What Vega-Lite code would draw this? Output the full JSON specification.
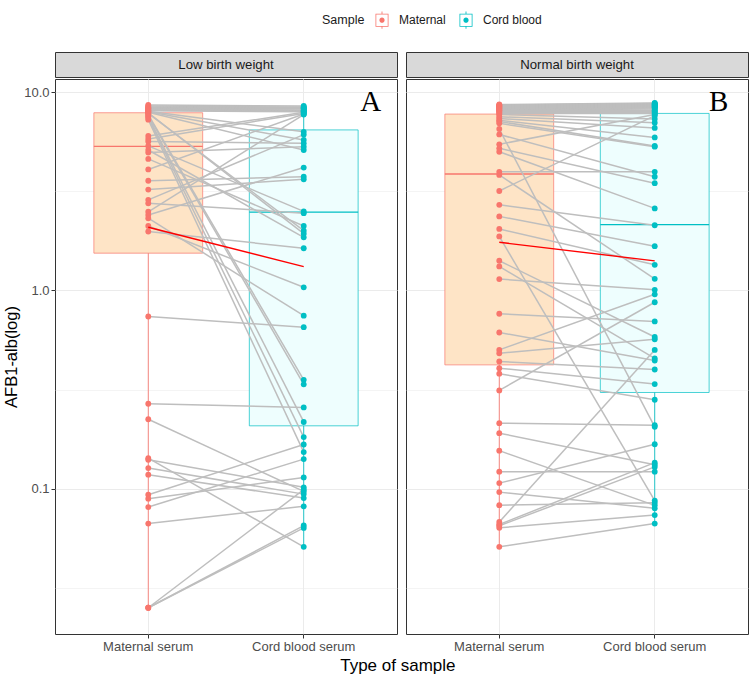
{
  "$schema": "https://vega.github.io/schema/vega-lite/v6.json",
  "background": "white",
  "padding": {"left": 3, "top": 11, "right": 4, "bottom": 6},
  "config": {
    "font": "Liberation Sans",
    "view": {"stroke": "#333333", "strokeWidth": 1},
    "axis": {"domain": false, "gridColor": "#EBEBEB", "tickColor": "#333333", "tickSize": 4, "labelFontSize": 13, "labelColor": "#4D4D4D", "labelPadding": 2, "titleFontWeight": "normal", "titleColor": "#000000"},
    "legend": {"orient": "none", "legendX": 267, "legendY": -41, "direction": "horizontal", "titleOrient": "left", "titleFontSize": 12.5, "titleFontWeight": "normal", "titleColor": "#1A1A1A", "titlePadding": 8, "labelFontSize": 12, "labelColor": "#1A1A1A", "labelOffset": 8, "columnPadding": 11, "symbolSize": 300, "symbolStrokeWidth": 0,
               "symbolType": "M-0.75,-0.75H0.75V0.75H-0.75Z M-0.66,-0.66V0.66H0.66V-0.66Z M-0.05,-1H0.05V-0.75H-0.05Z M-0.05,0.75H0.05V1H-0.05Z M0.3,0A0.3,0.3 0 1,1 -0.3,0A0.3,0.3 0 1,1 0.3,0Z"}
  },
  "title": {"text": "Type of sample", "orient": "bottom", "anchor": "middle", "fontSize": 17, "fontWeight": "normal", "color": "#000000", "offset": 4, "dx": 22},
  "datasets": {
    "pairs": [
      {"group": "Low birth weight", "id": 1, "Maternal": 8.6, "Cord blood": 8.5},
      {"group": "Low birth weight", "id": 2, "Maternal": 8.5, "Cord blood": 8.4},
      {"group": "Low birth weight", "id": 3, "Maternal": 8.4, "Cord blood": 8.35},
      {"group": "Low birth weight", "id": 4, "Maternal": 8.35, "Cord blood": 8.3},
      {"group": "Low birth weight", "id": 5, "Maternal": 8.3, "Cord blood": 8.25},
      {"group": "Low birth weight", "id": 6, "Maternal": 8.25, "Cord blood": 8.2},
      {"group": "Low birth weight", "id": 7, "Maternal": 8.2, "Cord blood": 8.1},
      {"group": "Low birth weight", "id": 8, "Maternal": 8.15, "Cord blood": 8.05},
      {"group": "Low birth weight", "id": 9, "Maternal": 8.1, "Cord blood": 8.0},
      {"group": "Low birth weight", "id": 10, "Maternal": 8.05, "Cord blood": 7.95},
      {"group": "Low birth weight", "id": 11, "Maternal": 8.0, "Cord blood": 6.3},
      {"group": "Low birth weight", "id": 12, "Maternal": 7.95, "Cord blood": 5.73},
      {"group": "Low birth weight", "id": 13, "Maternal": 7.9, "Cord blood": 5.1},
      {"group": "Low birth weight", "id": 14, "Maternal": 7.85, "Cord blood": 1.93},
      {"group": "Low birth weight", "id": 15, "Maternal": 7.8, "Cord blood": 2.0},
      {"group": "Low birth weight", "id": 16, "Maternal": 7.7, "Cord blood": 0.354},
      {"group": "Low birth weight", "id": 17, "Maternal": 7.6, "Cord blood": 0.336},
      {"group": "Low birth weight", "id": 18, "Maternal": 7.5, "Cord blood": 0.217},
      {"group": "Low birth weight", "id": 19, "Maternal": 7.4, "Cord blood": 0.182},
      {"group": "Low birth weight", "id": 20, "Maternal": 7.25, "Cord blood": 0.153},
      {"group": "Low birth weight", "id": 21, "Maternal": 6.0, "Cord blood": 7.9},
      {"group": "Low birth weight", "id": 22, "Maternal": 5.8, "Cord blood": 7.8},
      {"group": "Low birth weight", "id": 23, "Maternal": 5.63, "Cord blood": 5.51},
      {"group": "Low birth weight", "id": 24, "Maternal": 5.35, "Cord blood": 2.5},
      {"group": "Low birth weight", "id": 25, "Maternal": 5.1, "Cord blood": 1.85},
      {"group": "Low birth weight", "id": 26, "Maternal": 4.95, "Cord blood": 5.3},
      {"group": "Low birth weight", "id": 27, "Maternal": 4.6, "Cord blood": 2.11},
      {"group": "Low birth weight", "id": 28, "Maternal": 4.07, "Cord blood": 7.75},
      {"group": "Low birth weight", "id": 29, "Maternal": 3.57, "Cord blood": 3.74},
      {"group": "Low birth weight", "id": 30, "Maternal": 3.22, "Cord blood": 3.63},
      {"group": "Low birth weight", "id": 31, "Maternal": 2.86, "Cord blood": 6.1},
      {"group": "Low birth weight", "id": 32, "Maternal": 2.75, "Cord blood": 2.45},
      {"group": "Low birth weight", "id": 33, "Maternal": 2.49, "Cord blood": 7.7},
      {"group": "Low birth weight", "id": 34, "Maternal": 2.4, "Cord blood": 4.16},
      {"group": "Low birth weight", "id": 35, "Maternal": 2.31, "Cord blood": 0.745},
      {"group": "Low birth weight", "id": 36, "Maternal": 2.11, "Cord blood": 1.036},
      {"group": "Low birth weight", "id": 37, "Maternal": 1.98, "Cord blood": 1.63},
      {"group": "Low birth weight", "id": 38, "Maternal": 0.738, "Cord blood": 0.652},
      {"group": "Low birth weight", "id": 39, "Maternal": 0.268, "Cord blood": 0.257},
      {"group": "Low birth weight", "id": 40, "Maternal": 0.224, "Cord blood": 0.0969},
      {"group": "Low birth weight", "id": 41, "Maternal": 0.1426, "Cord blood": 0.0509},
      {"group": "Low birth weight", "id": 42, "Maternal": 0.14, "Cord blood": 0.1016},
      {"group": "Low birth weight", "id": 43, "Maternal": 0.127, "Cord blood": 0.0939},
      {"group": "Low birth weight", "id": 44, "Maternal": 0.1177, "Cord blood": 0.0897},
      {"group": "Low birth weight", "id": 45, "Maternal": 0.0933, "Cord blood": 0.167},
      {"group": "Low birth weight", "id": 46, "Maternal": 0.0891, "Cord blood": 0.114},
      {"group": "Low birth weight", "id": 47, "Maternal": 0.0808, "Cord blood": 0.141},
      {"group": "Low birth weight", "id": 48, "Maternal": 0.0667, "Cord blood": 0.0815},
      {"group": "Low birth weight", "id": 49, "Maternal": 0.0251, "Cord blood": 0.099},
      {"group": "Low birth weight", "id": 50, "Maternal": 0.0251, "Cord blood": 0.0652},
      {"group": "Low birth weight", "id": 51, "Maternal": 0.0251, "Cord blood": 0.0634},
      {"group": "Normal birth weight", "id": 1, "Maternal": 8.65, "Cord blood": 8.8},
      {"group": "Normal birth weight", "id": 2, "Maternal": 8.6, "Cord blood": 8.75},
      {"group": "Normal birth weight", "id": 3, "Maternal": 8.55, "Cord blood": 8.7},
      {"group": "Normal birth weight", "id": 4, "Maternal": 8.5, "Cord blood": 8.65},
      {"group": "Normal birth weight", "id": 5, "Maternal": 8.45, "Cord blood": 8.6},
      {"group": "Normal birth weight", "id": 6, "Maternal": 8.4, "Cord blood": 8.55},
      {"group": "Normal birth weight", "id": 7, "Maternal": 8.35, "Cord blood": 8.5},
      {"group": "Normal birth weight", "id": 8, "Maternal": 8.3, "Cord blood": 8.45},
      {"group": "Normal birth weight", "id": 9, "Maternal": 8.25, "Cord blood": 8.4},
      {"group": "Normal birth weight", "id": 10, "Maternal": 8.2, "Cord blood": 8.35},
      {"group": "Normal birth weight", "id": 11, "Maternal": 8.15, "Cord blood": 8.3},
      {"group": "Normal birth weight", "id": 12, "Maternal": 8.1, "Cord blood": 8.2},
      {"group": "Normal birth weight", "id": 13, "Maternal": 8.05, "Cord blood": 8.1},
      {"group": "Normal birth weight", "id": 14, "Maternal": 8.0, "Cord blood": 8.0},
      {"group": "Normal birth weight", "id": 15, "Maternal": 7.9, "Cord blood": 7.9},
      {"group": "Normal birth weight", "id": 16, "Maternal": 7.8, "Cord blood": 7.8},
      {"group": "Normal birth weight", "id": 17, "Maternal": 7.7, "Cord blood": 7.31},
      {"group": "Normal birth weight", "id": 18, "Maternal": 7.5, "Cord blood": 7.0},
      {"group": "Normal birth weight", "id": 19, "Maternal": 7.35, "Cord blood": 6.59},
      {"group": "Normal birth weight", "id": 20, "Maternal": 7.2, "Cord blood": 5.9},
      {"group": "Normal birth weight", "id": 21, "Maternal": 7.1, "Cord blood": 5.35},
      {"group": "Normal birth weight", "id": 22, "Maternal": 6.95, "Cord blood": 5.3},
      {"group": "Normal birth weight", "id": 23, "Maternal": 6.51, "Cord blood": 0.205},
      {"group": "Normal birth weight", "id": 24, "Maternal": 6.11, "Cord blood": 3.74},
      {"group": "Normal birth weight", "id": 25, "Maternal": 5.45, "Cord blood": 7.7},
      {"group": "Normal birth weight", "id": 26, "Maternal": 5.2, "Cord blood": 3.47},
      {"group": "Normal birth weight", "id": 27, "Maternal": 5.0, "Cord blood": 2.59},
      {"group": "Normal birth weight", "id": 28, "Maternal": 3.96, "Cord blood": 3.96},
      {"group": "Normal birth weight", "id": 29, "Maternal": 3.82, "Cord blood": 1.143},
      {"group": "Normal birth weight", "id": 30, "Maternal": 3.17, "Cord blood": 7.6},
      {"group": "Normal birth weight", "id": 31, "Maternal": 2.7, "Cord blood": 2.13},
      {"group": "Normal birth weight", "id": 32, "Maternal": 2.36, "Cord blood": 1.67},
      {"group": "Normal birth weight", "id": 33, "Maternal": 2.04, "Cord blood": 1.345},
      {"group": "Normal birth weight", "id": 34, "Maternal": 1.87, "Cord blood": 0.0871},
      {"group": "Normal birth weight", "id": 35, "Maternal": 1.41, "Cord blood": 0.582},
      {"group": "Normal birth weight", "id": 36, "Maternal": 1.32, "Cord blood": 0.454},
      {"group": "Normal birth weight", "id": 37, "Maternal": 1.14, "Cord blood": 1.006},
      {"group": "Normal birth weight", "id": 38, "Maternal": 0.762, "Cord blood": 0.697},
      {"group": "Normal birth weight", "id": 39, "Maternal": 0.613, "Cord blood": 0.443},
      {"group": "Normal birth weight", "id": 40, "Maternal": 0.501, "Cord blood": 0.955},
      {"group": "Normal birth weight", "id": 41, "Maternal": 0.482, "Cord blood": 0.567},
      {"group": "Normal birth weight", "id": 42, "Maternal": 0.438, "Cord blood": 0.399},
      {"group": "Normal birth weight", "id": 43, "Maternal": 0.405, "Cord blood": 0.337},
      {"group": "Normal birth weight", "id": 44, "Maternal": 0.38, "Cord blood": 0.2807},
      {"group": "Normal birth weight", "id": 45, "Maternal": 0.313, "Cord blood": 0.871},
      {"group": "Normal birth weight", "id": 46, "Maternal": 0.214, "Cord blood": 0.209},
      {"group": "Normal birth weight", "id": 47, "Maternal": 0.1905, "Cord blood": 0.132},
      {"group": "Normal birth weight", "id": 48, "Maternal": 0.1555, "Cord blood": 0.0824},
      {"group": "Normal birth weight", "id": 49, "Maternal": 0.1218, "Cord blood": 0.1219},
      {"group": "Normal birth weight", "id": 50, "Maternal": 0.1067, "Cord blood": 0.1675},
      {"group": "Normal birth weight", "id": 51, "Maternal": 0.0961, "Cord blood": 0.0796},
      {"group": "Normal birth weight", "id": 52, "Maternal": 0.0826, "Cord blood": 0.085},
      {"group": "Normal birth weight", "id": 53, "Maternal": 0.068, "Cord blood": 0.501},
      {"group": "Normal birth weight", "id": 54, "Maternal": 0.066, "Cord blood": 0.1353},
      {"group": "Normal birth weight", "id": 55, "Maternal": 0.065, "Cord blood": 0.1288},
      {"group": "Normal birth weight", "id": 56, "Maternal": 0.0635, "Cord blood": 0.0736},
      {"group": "Normal birth weight", "id": 57, "Maternal": 0.0509, "Cord blood": 0.0667}
    ],
    "boxes": [
      {"group": "Low birth weight", "sample": "Maternal", "lower": 0.0251, "q1": 1.54, "median": 5.32, "q3": 7.86, "upper": 8.6},
      {"group": "Low birth weight", "sample": "Cord blood", "lower": 0.0509, "q1": 0.2075, "median": 2.48, "q3": 6.44, "upper": 8.5},
      {"group": "Normal birth weight", "sample": "Maternal", "lower": 0.0509, "q1": 0.421, "median": 3.86, "q3": 7.74, "upper": 8.65},
      {"group": "Normal birth weight", "sample": "Cord blood", "lower": 0.0667, "q1": 0.3055, "median": 2.145, "q3": 7.8, "upper": 8.8}
    ],
    "means": [
      {"group": "Low birth weight", "sample": "Maternal", "value": 2.08},
      {"group": "Low birth weight", "sample": "Cord blood", "value": 1.318},
      {"group": "Normal birth weight", "sample": "Maternal", "value": 1.747},
      {"group": "Normal birth weight", "sample": "Cord blood", "value": 1.408}
    ],
    "strips": [
      {"group": "Low birth weight", "label": "A"},
      {"group": "Normal birth weight", "label": "B"}
    ]
  },
  "spacing": 7,
  "hconcat": [
    {
      "spacing": 0,
      "vconcat": [
        {
          "data": {"name": "strips"},
          "transform": [{"filter": "datum.group == 'Low birth weight'"}],
          "width": 342, "height": 25,
          "view": {"fill": "#D9D9D9", "stroke": "#333333"},
          "mark": {"type": "text", "fontSize": 13.2, "color": "#1A1A1A", "baseline": "middle", "align": "center"},
          "encoding": {"text": {"field": "group", "type": "nominal"}}
        },
        {
          "width": 342, "height": 555,
          "layer": [
            {
              "data": {"name": "boxes"},
              "transform": [{"filter": "datum.group == 'Low birth weight'"}],
              "mark": {"type": "rule", "strokeWidth": 1, "strokeOpacity": 0.85},
              "encoding": {
                "x": {"field": "sample", "type": "nominal", "scale": {"type": "band", "domain": ["Maternal", "Cord blood"], "paddingInner": 0.3, "paddingOuter": 0.25},
                      "axis": {"title": null, "grid": true, "bandPosition": 0.5, "labelExpr": "datum.label + ' serum'", "labelAngle": 0}},
                "y": {"field": "lower", "type": "quantitative", "scale": {"type": "log", "domain": [0.01851, 11.63], "nice": false},
                      "axis": {"title": "AFB1-alb(log)", "titleFontSize": 16.5, "titlePadding": 4, "grid": true, "labelFlush": false, "labelOverlap": false,
                               "values": [0.0316228, 0.1, 0.316228, 1, 3.16228, 10],
                               "labelExpr": "datum.value == 0.1 ? '0.1' : datum.value == 1 ? '1.0' : datum.value == 10 ? '10.0' : ''",
                               "tickOpacity": {"condition": {"test": "datum.value == 0.1 || datum.value == 1 || datum.value == 10", "value": 1}, "value": 0},
                               "gridWidth": {"condition": {"test": "datum.value == 0.1 || datum.value == 1 || datum.value == 10", "value": 1.1}, "value": 0.55}}},
                "y2": {"field": "upper"},
                "stroke": {"field": "sample", "type": "nominal", "scale": {"domain": ["Cord blood", "Maternal"], "range": ["#00BFC4", "#F8766D"]}, "legend": null}
              }
            },
            {
              "data": {"name": "boxes"},
              "transform": [{"filter": "datum.group == 'Low birth weight'"}],
              "mark": {"type": "bar", "strokeWidth": 1, "strokeOpacity": 0.7},
              "encoding": {
                "x": {"field": "sample", "type": "nominal"},
                "y": {"field": "q1", "type": "quantitative"},
                "y2": {"field": "q3"},
                "fill": {"field": "sample", "type": "nominal", "scale": {"domain": ["Cord blood", "Maternal"], "range": ["#EEFEFE", "#FEE4C6"]}, "legend": null},
                "stroke": {"field": "sample", "type": "nominal"}
              }
            },
            {
              "data": {"name": "boxes"},
              "transform": [{"filter": "datum.group == 'Low birth weight'"}],
              "mark": {"type": "bar", "fill": "transparent", "strokeWidth": 1.4},
              "encoding": {
                "x": {"field": "sample", "type": "nominal"},
                "y": {"field": "median", "type": "quantitative"},
                "y2": {"field": "median"},
                "stroke": {"field": "sample", "type": "nominal"}
              }
            },
            {
              "data": {"name": "pairs"},
              "transform": [{"filter": "datum.group == 'Low birth weight'"}, {"fold": ["Maternal", "Cord blood"], "as": ["sample", "value"]}],
              "mark": {"type": "line", "color": "#BEBEBE", "strokeWidth": 1.5},
              "encoding": {
                "x": {"field": "sample", "type": "nominal"},
                "y": {"field": "value", "type": "quantitative"},
                "detail": {"field": "id", "type": "nominal"}
              }
            },
            {
              "data": {"name": "pairs"},
              "transform": [{"filter": "datum.group == 'Low birth weight'"}, {"fold": ["Maternal", "Cord blood"], "as": ["sample", "value"]}],
              "mark": {"type": "point", "filled": true, "size": 34, "opacity": 1},
              "encoding": {
                "x": {"field": "sample", "type": "nominal"},
                "y": {"field": "value", "type": "quantitative"},
                "color": {"field": "sample", "type": "nominal", "title": "Sample", "scale": {"domain": ["Maternal", "Cord blood"], "range": ["#F8766D", "#00BFC4"]}}
              }
            },
            {
              "data": {"name": "means"},
              "transform": [{"filter": "datum.group == 'Low birth weight'"}],
              "mark": {"type": "line", "color": "#FF0000", "strokeWidth": 1.4},
              "encoding": {
                "x": {"field": "sample", "type": "nominal"},
                "y": {"field": "value", "type": "quantitative"}
              }
            },
            {
              "data": {"name": "strips"},
              "transform": [{"filter": "datum.group == 'Low birth weight'"}],
              "mark": {"type": "text", "font": "Liberation Serif", "fontSize": 29, "color": "#000000", "baseline": "alphabetic", "align": "center", "dx": 67},
              "encoding": {
                "x": {"datum": "Cord blood", "type": "nominal"},
                "y": {"datum": 8.05, "type": "quantitative"},
                "text": {"field": "label", "type": "nominal"}
              }
            }
          ]
        }
      ]
    },
    {
      "spacing": 0,
      "vconcat": [
        {
          "data": {"name": "strips"},
          "transform": [{"filter": "datum.group == 'Normal birth weight'"}],
          "width": 342, "height": 25,
          "view": {"fill": "#D9D9D9", "stroke": "#333333"},
          "mark": {"type": "text", "fontSize": 13.2, "color": "#1A1A1A", "baseline": "middle", "align": "center"},
          "encoding": {"text": {"field": "group", "type": "nominal"}}
        },
        {
          "width": 342, "height": 555,
          "layer": [
            {
              "data": {"name": "boxes"},
              "transform": [{"filter": "datum.group == 'Normal birth weight'"}],
              "mark": {"type": "rule", "strokeWidth": 1, "strokeOpacity": 0.85},
              "encoding": {
                "x": {"field": "sample", "type": "nominal", "scale": {"type": "band", "domain": ["Maternal", "Cord blood"], "paddingInner": 0.3, "paddingOuter": 0.25},
                      "axis": {"title": null, "grid": true, "bandPosition": 0.5, "labelExpr": "datum.label + ' serum'", "labelAngle": 0}},
                "y": {"field": "lower", "type": "quantitative", "scale": {"type": "log", "domain": [0.01851, 11.63], "nice": false},
                      "axis": {"title": null, "grid": true, "labels": false, "ticks": false,
                               "values": [0.0316228, 0.1, 0.316228, 1, 3.16228, 10],
                               "gridWidth": {"condition": {"test": "datum.value == 0.1 || datum.value == 1 || datum.value == 10", "value": 1.1}, "value": 0.55}}},
                "y2": {"field": "upper"},
                "stroke": {"field": "sample", "type": "nominal", "scale": {"domain": ["Cord blood", "Maternal"], "range": ["#00BFC4", "#F8766D"]}, "legend": null}
              }
            },
            {
              "data": {"name": "boxes"},
              "transform": [{"filter": "datum.group == 'Normal birth weight'"}],
              "mark": {"type": "bar", "strokeWidth": 1, "strokeOpacity": 0.7},
              "encoding": {
                "x": {"field": "sample", "type": "nominal"},
                "y": {"field": "q1", "type": "quantitative"},
                "y2": {"field": "q3"},
                "fill": {"field": "sample", "type": "nominal", "scale": {"domain": ["Cord blood", "Maternal"], "range": ["#EEFEFE", "#FEE4C6"]}, "legend": null},
                "stroke": {"field": "sample", "type": "nominal"}
              }
            },
            {
              "data": {"name": "boxes"},
              "transform": [{"filter": "datum.group == 'Normal birth weight'"}],
              "mark": {"type": "bar", "fill": "transparent", "strokeWidth": 1.4},
              "encoding": {
                "x": {"field": "sample", "type": "nominal"},
                "y": {"field": "median", "type": "quantitative"},
                "y2": {"field": "median"},
                "stroke": {"field": "sample", "type": "nominal"}
              }
            },
            {
              "data": {"name": "pairs"},
              "transform": [{"filter": "datum.group == 'Normal birth weight'"}, {"fold": ["Maternal", "Cord blood"], "as": ["sample", "value"]}],
              "mark": {"type": "line", "color": "#BEBEBE", "strokeWidth": 1.5},
              "encoding": {
                "x": {"field": "sample", "type": "nominal"},
                "y": {"field": "value", "type": "quantitative"},
                "detail": {"field": "id", "type": "nominal"}
              }
            },
            {
              "data": {"name": "pairs"},
              "transform": [{"filter": "datum.group == 'Normal birth weight'"}, {"fold": ["Maternal", "Cord blood"], "as": ["sample", "value"]}],
              "mark": {"type": "point", "filled": true, "size": 34, "opacity": 1},
              "encoding": {
                "x": {"field": "sample", "type": "nominal"},
                "y": {"field": "value", "type": "quantitative"},
                "color": {"field": "sample", "type": "nominal", "title": "Sample", "scale": {"domain": ["Maternal", "Cord blood"], "range": ["#F8766D", "#00BFC4"]}}
              }
            },
            {
              "data": {"name": "means"},
              "transform": [{"filter": "datum.group == 'Normal birth weight'"}],
              "mark": {"type": "line", "color": "#FF0000", "strokeWidth": 1.4},
              "encoding": {
                "x": {"field": "sample", "type": "nominal"},
                "y": {"field": "value", "type": "quantitative"}
              }
            },
            {
              "data": {"name": "strips"},
              "transform": [{"filter": "datum.group == 'Normal birth weight'"}],
              "mark": {"type": "text", "font": "Liberation Serif", "fontSize": 29, "color": "#000000", "baseline": "alphabetic", "align": "center", "dx": 64},
              "encoding": {
                "x": {"datum": "Cord blood", "type": "nominal"},
                "y": {"datum": 8.05, "type": "quantitative"},
                "text": {"field": "label", "type": "nominal"}
              }
            }
          ]
        }
      ]
    }
  ]
}
